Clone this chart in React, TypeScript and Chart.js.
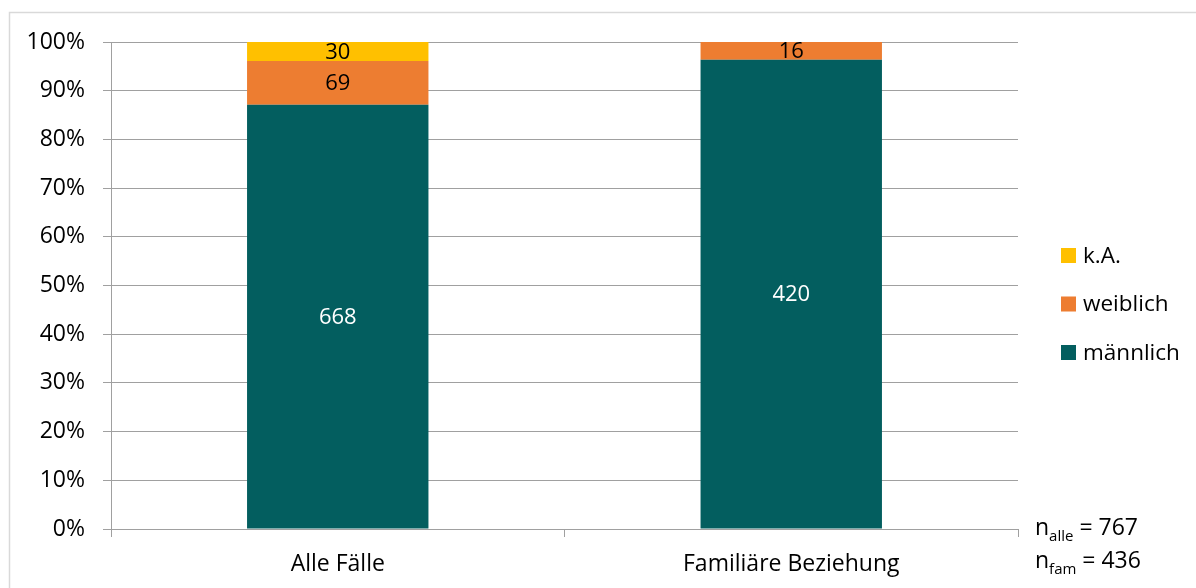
import React, { useEffect, useRef } from "react";
import { Chart, registerables } from "chart.js";

Chart.register(...registerables);

const categories = ["Alle Fälle", "Familiäre Beziehung"];
const seriesNames = ["männlich", "weiblich", "k.A."];
const maennlich = [668, 420];
const weiblich = [69, 16];
const keineAngabe = [30, 0];
const seriesColors = ["#035E5F", "#ED7D31", "#FFC000"];
const labelColors = ["#FFFFFF", "#000000", "#000000"];
const yTickValues = [0, 10, 20, 30, 40, 50, 60, 70, 80, 90, 100];
const nNotes = [
  { base: "n", sub: "alle", value: "767" },
  { base: "n", sub: "fam", value: "436" },
];

const FONT = "'Open Sans', 'DejaVu Sans', sans-serif";

const counts = [maennlich, weiblich, keineAngabe];
const totals = categories.map((_, i) => counts.reduce((s, arr) => s + arr[i], 0));
const toPct = (arr: number[]) => arr.map((v, i) => (v / totals[i]) * 100);

const framePlugin = {
  id: "frame",
  beforeDraw(chart: any) {
    const ctx = chart.ctx;
    ctx.save();
    ctx.fillStyle = "#FFFFFF";
    ctx.fillRect(0, 0, chart.width, chart.height);
    ctx.strokeStyle = "#D9D9D9";
    ctx.lineWidth = 1.5;
    ctx.strokeRect(9.5, 12.5, chart.width + 20, chart.height + 20);
    ctx.restore();
  },
};

const valueLabelPlugin = {
  id: "valueLabels",
  afterDatasetsDraw(chart: any) {
    const ctx = chart.ctx;
    ctx.save();
    ctx.font = `22px ${FONT}`;
    ctx.textAlign = "center";
    ctx.textBaseline = "middle";
    chart.data.datasets.forEach((ds: any, di: number) => {
      const meta = chart.getDatasetMeta(di);
      meta.data.forEach((el: any, i: number) => {
        const count = ds.counts[i];
        if (!count) return;
        const { x, y, base } = el.getProps(["x", "y", "base"], true);
        ctx.fillStyle = ds.labelColor;
        ctx.fillText(String(count), x, (y + base) / 2 + 1);
      });
    });
    ctx.restore();
  },
};

const legendPlugin = {
  id: "customLegend",
  afterDraw(chart: any) {
    const ctx = chart.ctx;
    const dsList = chart.data.datasets.slice().reverse();
    ctx.save();
    ctx.font = `22.5px ${FONT}`;
    ctx.textAlign = "left";
    ctx.textBaseline = "middle";
    const bx = chart.chartArea.right + 43;
    const startY = 255.5;
    const step = 48.5;
    dsList.forEach((ds: any, i: number) => {
      const cy = startY + i * step;
      ctx.fillStyle = ds.backgroundColor;
      ctx.fillRect(bx, cy - 7.5, 15, 15);
      ctx.fillStyle = "#000000";
      ctx.fillText(ds.label, bx + 22, cy + 1);
    });
    ctx.restore();
  },
};

const notePlugin = {
  id: "nNotes",
  afterDraw(chart: any) {
    const ctx = chart.ctx;
    ctx.save();
    ctx.fillStyle = "#000000";
    ctx.textBaseline = "alphabetic";
    ctx.textAlign = "left";
    const x0 = chart.chartArea.right + 17;
    const baselines = [535, 568];
    nNotes.forEach((n, i) => {
      let x = x0;
      const y = baselines[i];
      ctx.font = `23px ${FONT}`;
      ctx.fillText(n.base, x, y);
      x += ctx.measureText(n.base).width;
      ctx.font = `15px ${FONT}`;
      ctx.fillText(n.sub, x, y + 6);
      x += ctx.measureText(n.sub).width;
      ctx.font = `23px ${FONT}`;
      ctx.fillText(" = " + n.value, x, y);
    });
    ctx.restore();
  },
};

export default function App() {
  const canvasRef = useRef<HTMLCanvasElement | null>(null);

  useEffect(() => {
    const canvas = canvasRef.current;
    if (!canvas) return;
    const datasets = counts.map((arr, di) => ({
      label: seriesNames[di],
      data: toPct(arr),
      counts: arr,
      labelColor: labelColors[di],
      backgroundColor: seriesColors[di],
      borderWidth: 0,
      categoryPercentage: 1,
      barPercentage: 0.4,
    }));
    const chart = new Chart(canvas, {
      type: "bar",
      data: { labels: categories, datasets: datasets as any },
      options: {
        animation: false,
        responsive: true,
        maintainAspectRatio: false,
        layout: { padding: { left: 0, top: 42, right: 178, bottom: 0 } },
        plugins: {
          legend: { display: false },
          tooltip: { enabled: false },
        },
        scales: {
          x: {
            stacked: true,
            offset: true,
            afterFit: (scale: any) => {
              scale.height = 59;
            },
            grid: {
              offset: true,
              drawOnChartArea: false,
              drawTicks: true,
              tickLength: 8,
              color: "#A0A0A0",
            },
            border: { color: "#A0A0A0", width: 1 },
            ticks: {
              color: "#000000",
              font: { family: FONT, size: 23 },
              padding: 14,
              maxRotation: 0,
            },
          },
          y: {
            stacked: true,
            min: 0,
            max: 100,
            afterFit: (scale: any) => {
              scale.width = 111;
            },
            afterBuildTicks: (scale: any) => {
              scale.ticks = yTickValues.map((v) => ({ value: v }));
            },
            grid: {
              color: "#A0A0A0",
              tickLength: 8,
              drawTicks: true,
            },
            border: { color: "#A0A0A0", width: 1 },
            ticks: {
              color: "#000000",
              font: { family: FONT, size: 23 },
              padding: 18,
              callback: (v: any) => `${v}%`,
            },
          },
        },
      },
      plugins: [framePlugin, valueLabelPlugin, legendPlugin, notePlugin],
    });
    return () => chart.destroy();
  }, []);

  return (
    <div style={{ position: "absolute", left: 0, top: 0, width: 1196, height: 588 }}>
      <canvas ref={canvasRef} />
    </div>
  );
}
